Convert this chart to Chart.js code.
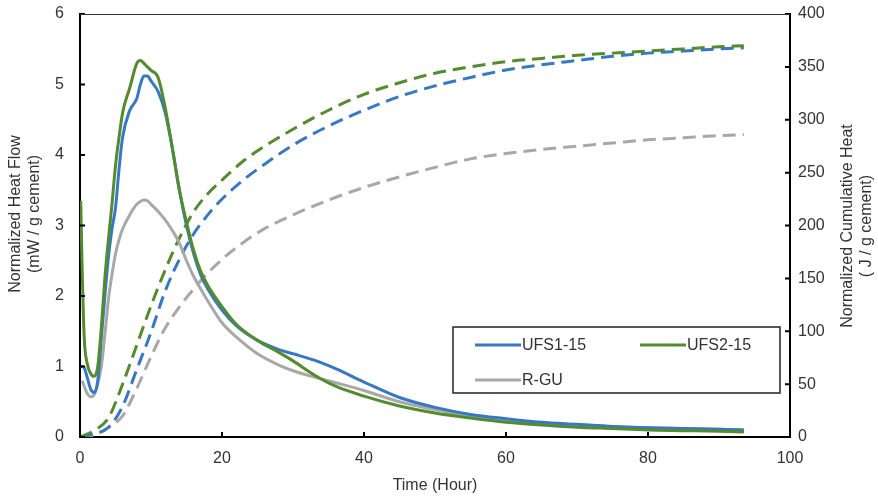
<!DOCTYPE html>
<html>
<head>
<meta charset="utf-8">
<script src="https://cdn.jsdelivr.net/npm/chart.js@4/dist/chart.umd.min.js"></script>
<style>
  html, body { margin: 0; padding: 0; background: #fff; }
  #wrap { width: 878px; height: 498px; position: relative; }
</style>
</head>
<body>
<div id="wrap"><canvas id="chart"></canvas></div>
<script>
// Heat flow (left axis, mW / g cement)
const flowTime = [0.1, 0.3, 0.6, 1, 1.5, 2, 2.5, 3, 3.5, 4, 4.5, 5, 5.5, 6, 7, 8, 8.5, 9, 9.5, 10, 11, 12, 13, 14, 15, 16, 17, 18, 20, 22, 25, 28, 30, 33, 36, 40, 45, 50, 55, 60, 65, 70, 75, 80, 85, 90, 93.5];
const ufs1Flow = [1.0, 1.0, 0.98, 0.85, 0.68, 0.63, 0.8, 1.4, 2.0, 2.55, 2.95, 3.25, 3.8, 4.25, 4.63, 4.8, 5.0, 5.12, 5.12, 5.05, 4.9, 4.6, 4.1, 3.5, 3.0, 2.6, 2.3, 2.1, 1.8, 1.58, 1.37, 1.24, 1.18, 1.09, 0.97, 0.78, 0.56, 0.42, 0.32, 0.26, 0.21, 0.18, 0.15, 0.13, 0.12, 0.11, 0.1];
const ufs2Flow = [3.35, 2.4, 1.4, 1.05, 0.9, 0.86, 1.0, 1.55, 2.25, 2.8, 3.3, 3.85, 4.25, 4.6, 4.95, 5.3, 5.34, 5.3, 5.25, 5.2, 5.1, 4.67, 4.1, 3.5, 3.05, 2.65, 2.35, 2.15, 1.85, 1.6, 1.37, 1.2, 1.08, 0.88, 0.72, 0.58, 0.44, 0.34, 0.27, 0.21, 0.17, 0.14, 0.12, 0.1, 0.09, 0.08, 0.07];
const rguFlow = [null, 0.8, 0.72, 0.62, 0.57, 0.6, 0.75, 1.0, 1.45, 1.95, 2.3, 2.6, 2.8, 2.95, 3.15, 3.3, 3.34, 3.36, 3.35, 3.3, 3.2, 3.08, 2.93, 2.75, 2.5, 2.28, 2.1, 1.93, 1.62, 1.42, 1.18, 1.02, 0.94, 0.85, 0.77, 0.66, 0.5, 0.39, 0.29, 0.24, 0.2, 0.17, 0.15, 0.13, 0.12, 0.11, 0.1];

// Cumulative heat (right axis, J / g cement)
const heatTime = [0, 2, 4, 6, 8, 10, 12, 14, 16, 18, 20, 23, 26, 30, 35, 40, 45, 50, 55, 60, 65, 70, 75, 80, 85, 90, 93.5];
const ufs1Heat = [0, 3, 9, 29, 64, 99, 138, 168, 192, 210, 225, 243, 258, 276, 294, 309, 322, 332, 340, 347, 352, 356, 360, 363, 365, 367, 368];
const ufs2Heat = [0, 6, 18, 50, 87, 124, 158, 188, 213, 230, 243, 261, 275, 291, 309, 324, 335, 344, 350, 355, 358, 361, 363, 365, 367, 369, 370];
const rguHeat = [0, 2, 9, 20, 46, 76, 103, 123, 140, 155, 168, 184, 197, 210, 224, 236, 246, 255, 263, 268, 272, 275, 278, 281, 283, 285, 286];

const xTicks = [0, 20, 40, 60, 80, 100];
const leftTicks = [0, 1, 2, 3, 4, 5, 6];
const rightTicks = [0, 50, 100, 150, 200, 250, 300, 350, 400];

const BLUE = '#3579c6';
const GREEN = '#538c2d';
const GREY = '#a8a8a8';
const FONT = '"Liberation Sans", Arial, sans-serif';
const TEXT = '#333';

function points(xs, ys) {
    return xs.map((x, i) => ({ x: x, y: ys[i] }));
}

function line(label, xs, ys, color, axis, dashed, order) {
    return {
        label: label,
        data: points(xs, ys),
        yAxisID: axis,
        borderColor: color,
        borderWidth: 3,
        borderDash: dashed ? [13, 7] : [],
        pointRadius: 0,
        fill: false,
        cubicInterpolationMode: 'monotone',
        spanGaps: false,
        order: order
    };
}

// vertical axes keep a fixed width and no extra label padding
function fixWidth(w) {
    return s => {
        s.width = w;
        s.paddingTop = 0;
        s.paddingBottom = 0;
    };
}

// Inside tick marks, top frame, axis titles and boxed legend
const decorations = {
    id: 'decorations',
    afterDraw(chart) {
        const ctx = chart.ctx;
        const a = chart.chartArea;
        const sx = chart.scales.x, sy = chart.scales.y, sy1 = chart.scales.y1;
        ctx.save();
        ctx.strokeStyle = '#000';
        ctx.lineWidth = 2;
        ctx.beginPath();
        xTicks.forEach(v => {
            const p = sx.getPixelForValue(v);
            ctx.moveTo(p, a.bottom); ctx.lineTo(p, a.bottom - 5);
        });
        leftTicks.forEach(v => {
            const p = sy.getPixelForValue(v);
            ctx.moveTo(a.left, p); ctx.lineTo(a.left + 5, p);
        });
        rightTicks.forEach(v => {
            const p = sy1.getPixelForValue(v);
            ctx.moveTo(a.right, p); ctx.lineTo(a.right - 5, p);
        });
        ctx.stroke();

        ctx.lineWidth = 1.2;
        ctx.strokeStyle = '#333';
        ctx.beginPath();
        ctx.moveTo(a.left, a.top + 0.5); ctx.lineTo(a.right, a.top + 0.5);
        ctx.stroke();

        // axis titles
        ctx.fillStyle = TEXT;
        ctx.font = '16px ' + FONT;
        ctx.textAlign = 'center';
        ctx.textBaseline = 'middle';
        ctx.fillText('Time (Hour)', (a.left + a.right) / 2, 486);

        ctx.save();
        ctx.translate(16, 214);
        ctx.rotate(-Math.PI / 2);
        ctx.fillText('Normalized Heat Flow', 0, 0);
        ctx.fillText('(mW / g cement)', 0, 19);
        ctx.restore();

        ctx.save();
        ctx.translate(848, 226);
        ctx.rotate(-Math.PI / 2);
        ctx.fillText('Normalized Cumulative Heat', 0, 0);
        ctx.fillText('( J / g cement)', 0, 19);
        ctx.restore();

        // legend
        ctx.fillStyle = '#fff';
        ctx.fillRect(453, 327, 327, 66);
        ctx.strokeStyle = '#222';
        ctx.lineWidth = 1.5;
        ctx.strokeRect(453, 327, 327, 66);
        const items = [
            { text: 'UFS1-15', color: BLUE, x: 475, y: 345 },
            { text: 'UFS2-15', color: GREEN, x: 640, y: 345 },
            { text: 'R-GU', color: GREY, x: 475, y: 380 }
        ];
        ctx.textAlign = 'left';
        items.forEach(it => {
            ctx.strokeStyle = it.color;
            ctx.lineWidth = 3;
            ctx.beginPath();
            ctx.moveTo(it.x, it.y); ctx.lineTo(it.x + 46, it.y);
            ctx.stroke();
            ctx.fillStyle = TEXT;
            ctx.fillText(it.text, it.x + 47, it.y + 1);
        });
        ctx.restore();
    }
};

document.addEventListener('DOMContentLoaded', function() {
    const ctx = document.getElementById('chart').getContext('2d');
    new Chart(ctx, {
        type: 'line',
        data: {
            datasets: [
                line('UFS2-15', flowTime, ufs2Flow, GREEN, 'y', false, 1),
                line('UFS1-15', flowTime, ufs1Flow, BLUE, 'y', false, 2),
                line('R-GU', flowTime, rguFlow, GREY, 'y', false, 3),
                line('UFS2-15 heat', heatTime, ufs2Heat, GREEN, 'y1', true, 4),
                line('UFS1-15 heat', heatTime, ufs1Heat, BLUE, 'y1', true, 5),
                line('R-GU heat', heatTime, rguHeat, GREY, 'y1', true, 6)
            ]
        },
        options: {
            responsive: true,
            maintainAspectRatio: false,
            animation: false,
            layout: { padding: { top: 14, left: 0, right: 0, bottom: 0 } },
            plugins: {
                legend: { display: false },
                tooltip: { enabled: false }
            },
            scales: {
                x: {
                    type: 'linear',
                    min: 0,
                    max: 100,
                    afterBuildTicks: s => { s.ticks = xTicks.map(v => ({ value: v })); },
                    afterFit: s => { s.height = 61; },
                    grid: { display: false, drawTicks: false },
                    border: { display: true, color: '#000', width: 2 },
                    ticks: { padding: 12, color: TEXT, font: { size: 16, family: FONT } }
                },
                y: {
                    position: 'left',
                    min: 0,
                    max: 6,
                    afterBuildTicks: s => { s.ticks = leftTicks.map(v => ({ value: v })); },
                    afterFit: fixWidth(80),
                    grid: { display: false, drawTicks: false },
                    border: { display: true, color: '#000', width: 2 },
                    ticks: { padding: 16, color: TEXT, font: { size: 16, family: FONT } }
                },
                y1: {
                    position: 'right',
                    min: 0,
                    max: 400,
                    afterBuildTicks: s => { s.ticks = rightTicks.map(v => ({ value: v })); },
                    afterFit: fixWidth(88),
                    grid: { display: false, drawTicks: false },
                    border: { display: true, color: '#000', width: 2 },
                    ticks: { padding: 8, color: TEXT, font: { size: 16, family: FONT } }
                }
            }
        },
        plugins: [decorations]
    });
});
</script>
</body>
</html>
